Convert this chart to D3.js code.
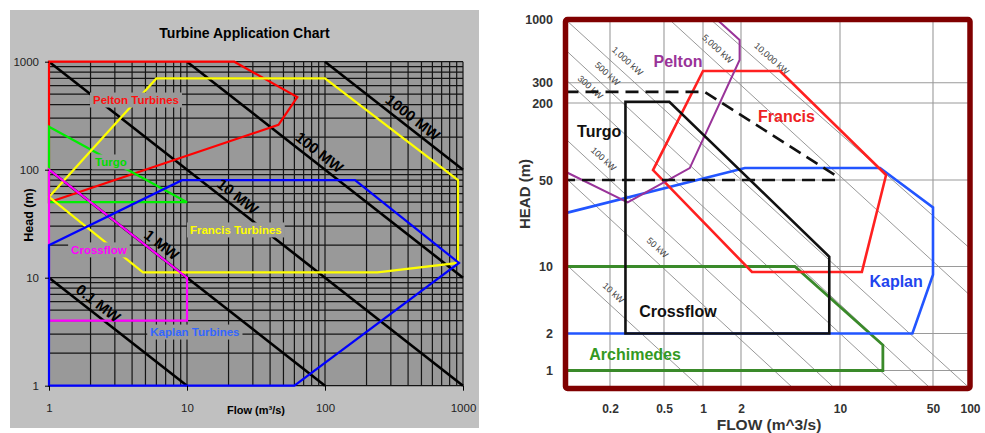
<!DOCTYPE html>
<html>
<head>
<meta charset="utf-8">
<script src="https://cdn.jsdelivr.net/npm/d3@7"></script>
<style>
  html, body { margin: 0; padding: 0; background: #fff; }
  svg { display: block; font-family: "Liberation Sans", Arial, sans-serif; }
</style>
</head>
<body>
<svg id="chart" width="985" height="433"></svg>
<script>
// ================= Left panel: Turbine Application Chart =================
const leftTicks = [1, 10, 100, 1000];

// Constant-power lines (MW) as start / end points in (flow, head)
const mwNames = ["0.1 MW", "1 MW", "10 MW", "100 MW", "1000 MW"];
const mwFrom = [[1, 10], [1, 100], [1, 1000], [10, 1000], [100, 1000]];
const mwTo = [[10, 1], [100, 1], [1000, 1], [1000, 10], [1000, 100]];
const mwLabelFlow = [2.05, 5.9, 21, 82, 390];

// Turbine envelopes (flow m3/s, head m)
const peltonL = [[1, 1000], [22, 1000], [63, 470], [46, 260], [1, 50]];
const turgoL = [[1, 250], [10, 50], [1, 50]];
const francisL = [[1, 56], [6, 700], [100, 700], [920, 80], [920, 13.7], [240, 11.2], [4.8, 11.2]];
const crossflowL = [[1, 100], [10, 10], [10, 4], [1, 4]];
const kaplanL = [[1, 1], [60, 1], [935, 13.7], [165, 80], [9.2, 80], [1, 20]];

const leftNames = ["Pelton Turbines", "Turgo", "Francis Turbines", "Crossflow", "Kaplan Turbines"];
const leftLineColors = ["#ff0000", "#00ee00", "#ffff00", "#ff00ff", "#0000ff"];
const leftTextColors = ["#ff1010", "#00dd00", "#ffff00", "#ff00ff", "#3366ff"];
const leftLabelAt = [[4.27, 442], [2.81, 118], [22.6, 27.7], [2.3, 18.1], [11.4, 3.14]];

// ================= Right panel: turbine selection by head and flow =================
const rightFlowTicks = [0.2, 0.5, 1, 2, 10, 50, 100];
const rightHeadTicks = [1, 2, 10, 50, 200, 300, 1000];

// Constant-power lines (kW)
const kwNames = ["10 kW", "50 kW", "100 kW", "300 kW", "500 kW", "1,000 kW", "5,000 kW", "10,000 kW"];
const kwFrom = [[0.1, 10.5], [0.1, 52], [0.1, 105], [0.1, 320], [0.1, 560], [0.1, 1000], [0.55, 1000], [1.15, 1000]];
const kwTo = [[0.97, 0.7], [4.7, 0.7], [9.2, 0.7], [28, 0.7], [48, 0.7], [100, 0.7], [100, 5], [100, 14]];
const kwLabelFlow = [0.188, 0.394, 0.161, 0.131, 0.171, 0.237, 1.14, 2.92];

const peltonR = [[0.1, 58], [0.27, 33], [0.79, 62], [1.95, 462], [1.95, 677], [1.29, 1000]];
const francisR = [[1, 375], [3.77, 375], [22.2, 54.7], [14.6, 8.76], [2.39, 8.76], [0.415, 59.8]];
const kaplanR = [[0.1, 27], [2.13, 62], [20, 62], [50, 30], [50, 8.2], [35, 2], [0.1, 2]];
const turgoR = [[0.1, 250], [1.03, 250], [9.2, 54.7], [9.4, 50], [0.1, 50]];
const crossflowR = [[0.26, 205], [0.55, 205], [8.4, 12], [8.4, 2], [0.26, 2]];
const archimedesR = [[0.1, 10], [4.8, 10], [21, 1.61], [21, 1], [0.1, 1]];

const rightNames = ["Pelton", "Francis", "Turgo", "Crossflow", "Archimedes", "Kaplan"];
const rightTextColors = ["#993399", "#ee2222", "#111111", "#111111", "#339922", "#2244ee"];
const rightLabelAt = [[0.641, 453], [4.19, 158], [0.169, 119.6], [0.641, 3.43], [0.306, 1.36], [26.4, 7.06]];

const FONT = "'Liberation Sans', Arial, sans-serif";
const svg = d3.select("#chart");

// ---------------- Left panel ----------------
const gL = svg.append("g");
gL.append("rect").attr("x", 10).attr("y", 10).attr("width", 469).attr("height", 418).attr("fill", "#c0c0c0");

const xL = d3.scaleLog().domain([1, 1000]).range([49, 463]);
const yL = d3.scaleLog().domain([1, 1000]).range([385.7, 61.7]);

gL.append("rect")
  .attr("x", xL(1)).attr("y", yL(1000))
  .attr("width", xL(1000) - xL(1)).attr("height", yL(1) - yL(1000))
  .attr("fill", "#999999");

// log grid
gL.append("g").selectAll("line").data(xL.ticks()).join("line")
  .attr("x1", d => xL(d)).attr("x2", d => xL(d))
  .attr("y1", yL(1000)).attr("y2", yL(1))
  .attr("stroke", "#141414").attr("stroke-width", 1.2);
gL.append("g").selectAll("line").data(yL.ticks()).join("line")
  .attr("y1", d => yL(d)).attr("y2", d => yL(d))
  .attr("x1", xL(1)).attr("x2", xL(1000))
  .attr("stroke", "#141414").attr("stroke-width", 1.2);

// power lines
const mwAngle = Math.atan2(yL(1) - yL(10), xL(10) - xL(1)) * 180 / Math.PI;
mwNames.forEach((name, i) => {
  gL.append("line")
    .attr("x1", xL(mwFrom[i][0])).attr("y1", yL(mwFrom[i][1]))
    .attr("x2", xL(mwTo[i][0])).attr("y2", yL(mwTo[i][1]))
    .attr("stroke", "#000").attr("stroke-width", 2.6);
});

// turbine envelopes
const lineL = d3.line().x(d => xL(d[0])).y(d => yL(d[1])).curve(d3.curveLinearClosed);
[peltonL, turgoL, francisL, crossflowL, kaplanL].forEach((poly, i) => {
  gL.append("path").attr("d", lineL(poly))
    .attr("fill", "none").attr("stroke", leftLineColors[i]).attr("stroke-width", 2.2)
    .attr("stroke-linejoin", "miter");
});

// power line labels
mwNames.forEach((name, i) => {
  const q = mwLabelFlow[i];
  const t = (Math.log10(q) - Math.log10(mwFrom[i][0])) / (Math.log10(mwTo[i][0]) - Math.log10(mwFrom[i][0]));
  const h = Math.pow(10, Math.log10(mwFrom[i][1]) + t * (Math.log10(mwTo[i][1]) - Math.log10(mwFrom[i][1])));
  gL.append("text")
    .attr("transform", `translate(${xL(q)},${yL(h)}) rotate(${mwAngle})`)
    .attr("dy", -5)
    .attr("text-anchor", "middle")
    .attr("font-family", FONT).attr("font-size", 15).attr("font-weight", "bold")
    .attr("fill", "#000")
    .text(name);
});

// turbine labels on gray boxes
leftNames.forEach((name, i) => {
  const lg = gL.append("g");
  const t = lg.append("text")
    .attr("x", xL(leftLabelAt[i][0])).attr("y", yL(leftLabelAt[i][1]))
    .attr("dy", "0.35em")
    .attr("text-anchor", "middle")
    .attr("font-family", FONT).attr("font-size", 11.5).attr("font-weight", "bold")
    .attr("fill", leftTextColors[i])
    .text(name);
  const bb = t.node().getBBox();
  lg.insert("rect", "text")
    .attr("x", bb.x - 3).attr("y", bb.y - 1.5)
    .attr("width", bb.width + 6).attr("height", bb.height + 3)
    .attr("fill", "#999999");
});

// axes
const axLY = gL.append("g").attr("transform", `translate(${xL(1)},0)`)
  .call(d3.axisLeft(yL).tickValues(leftTicks).tickFormat(d3.format("d")).tickSize(4).tickPadding(6));
axLY.select(".domain").remove();
axLY.attr("font-family", FONT).attr("font-size", 11.5);
axLY.selectAll("text").attr("fill", "#222");

const axLX = gL.append("g").attr("transform", `translate(0,${yL(1)})`)
  .call(d3.axisBottom(xL).tickValues(leftTicks).tickFormat(d3.format("d")).tickSize(5).tickPadding(13));
axLX.select(".domain").remove();
axLX.attr("font-family", FONT).attr("font-size", 11.5);
axLX.selectAll("text").attr("fill", "#222");

gL.append("text").attr("x", 244.5).attr("y", 38).attr("text-anchor", "middle")
  .attr("font-family", FONT).attr("font-size", 14).attr("font-weight", "bold").attr("fill", "#000")
  .text("Turbine Application Chart");
gL.append("text").attr("transform", "translate(29,215) rotate(-90)").attr("dy", "0.35em")
  .attr("text-anchor", "middle")
  .attr("font-family", FONT).attr("font-size", 12.5).attr("font-weight", "bold").attr("fill", "#000")
  .text("Head (m)");
gL.append("text").attr("x", 256).attr("y", 414).attr("text-anchor", "middle")
  .attr("font-family", FONT).attr("font-size", 11).attr("font-weight", "bold").attr("fill", "#000")
  .text("Flow (m³/s)");

// ---------------- Right panel ----------------
const gR = svg.append("g");
const xR = d3.scaleLog()
  .domain([0.1, 0.2, 0.5, 1, 2, 10, 50, 100])
  .range([565.5, 610, 664, 703, 741, 840, 933, 970]);
const yR = d3.scaleLog()
  .domain([0.7, 1, 2, 10, 50, 200, 300, 1000])
  .range([388.5, 370.5, 333.5, 266.5, 180, 103, 82.7, 19.5]);

// grid
gR.append("g").selectAll("line").data(rightFlowTicks).join("line")
  .attr("x1", d => xR(d)).attr("x2", d => xR(d))
  .attr("y1", yR(1000)).attr("y2", yR(0.7))
  .attr("stroke", "#9a9a9a").attr("stroke-width", 1.1);
gR.append("g").selectAll("line").data(rightHeadTicks).join("line")
  .attr("y1", d => yR(d)).attr("y2", d => yR(d))
  .attr("x1", xR(0.1)).attr("x2", xR(100))
  .attr("stroke", "#9a9a9a").attr("stroke-width", 1.1);

// power lines
kwNames.forEach((name, i) => {
  const x1 = xR(kwFrom[i][0]), y1 = yR(kwFrom[i][1]);
  const x2 = xR(kwTo[i][0]), y2 = yR(kwTo[i][1]);
  gR.append("line").attr("x1", x1).attr("y1", y1).attr("x2", x2).attr("y2", y2)
    .attr("stroke", "#8c8c8c").attr("stroke-width", 0.9);
  const lx = xR(kwLabelFlow[i]);
  const ly = y1 + (lx - x1) * (y2 - y1) / (x2 - x1);
  const ang = Math.atan2(y2 - y1, x2 - x1) * 180 / Math.PI;
  gR.append("text")
    .attr("transform", `translate(${lx},${ly}) rotate(${ang})`)
    .attr("dy", -8)
    .attr("text-anchor", "middle")
    .attr("font-family", FONT).attr("font-size", 9).attr("fill", "#444")
    .text(name);
});

// turbine envelopes
const lineROpen = d3.line().x(d => xR(d[0])).y(d => yR(d[1]));
const lineRClosed = d3.line().x(d => xR(d[0])).y(d => yR(d[1])).curve(d3.curveLinearClosed);

gR.append("path").attr("d", lineRClosed(archimedesR))
  .attr("fill", "none").attr("stroke", "#3a8a2a").attr("stroke-width", 2.8);
gR.append("path").attr("d", lineRClosed(kaplanR))
  .attr("fill", "none").attr("stroke", "#2255ff").attr("stroke-width", 2.6);
gR.append("path").attr("d", lineRClosed(francisR))
  .attr("fill", "none").attr("stroke", "#ff2020").attr("stroke-width", 2.6);
gR.append("path").attr("d", lineROpen(peltonR))
  .attr("fill", "none").attr("stroke", "#993399").attr("stroke-width", 2);
gR.append("path").attr("d", lineRClosed(turgoR))
  .attr("fill", "none").attr("stroke", "#111").attr("stroke-width", 2.6)
  .attr("stroke-dasharray", "13,7");
gR.append("path").attr("d", lineRClosed(crossflowR))
  .attr("fill", "none").attr("stroke", "#111").attr("stroke-width", 2.6);

// turbine names
rightNames.forEach((name, i) => {
  gR.append("text")
    .attr("x", xR(rightLabelAt[i][0])).attr("y", yR(rightLabelAt[i][1]))
    .attr("dy", "0.35em").attr("text-anchor", "middle")
    .attr("font-family", FONT).attr("font-size", 16).attr("font-weight", "bold")
    .attr("fill", rightTextColors[i])
    .text(name);
});

// frame
gR.append("rect")
  .attr("x", xR(0.1)).attr("y", yR(1000))
  .attr("width", xR(100) - xR(0.1)).attr("height", yR(0.7) - yR(1000))
  .attr("rx", 2)
  .attr("fill", "none").attr("stroke", "#800000").attr("stroke-width", 5.5);

// axes
const axRY = gR.append("g").attr("transform", `translate(${xR(0.1)},0)`)
  .call(d3.axisLeft(yR).tickValues(rightHeadTicks).tickFormat(d => String(d)).tickSize(0).tickPadding(12.5));
axRY.select(".domain").remove();
axRY.attr("font-family", FONT).attr("font-size", 12.5).attr("font-weight", "bold");
axRY.selectAll("text").attr("fill", "#333");

const axRX = gR.append("g").attr("transform", `translate(0,${yR(0.7)})`)
  .call(d3.axisBottom(xR).tickValues(rightFlowTicks).tickFormat(d => String(d)).tickSize(0).tickPadding(15.5));
axRX.select(".domain").remove();
axRX.attr("font-family", FONT).attr("font-size", 12).attr("font-weight", "bold");
axRX.selectAll("text").attr("fill", "#333");

gR.append("text").attr("transform", "translate(525,194) rotate(-90)").attr("dy", "0.35em")
  .attr("text-anchor", "middle")
  .attr("font-family", FONT).attr("font-size", 15).attr("font-weight", "bold").attr("fill", "#333")
  .text("HEAD (m)");
gR.append("text").attr("x", 769).attr("y", 430).attr("text-anchor", "middle")
  .attr("font-family", FONT).attr("font-size", 15.5).attr("font-weight", "bold").attr("fill", "#333")
  .text("FLOW (m^3/s)");
</script>
</body>
</html>
